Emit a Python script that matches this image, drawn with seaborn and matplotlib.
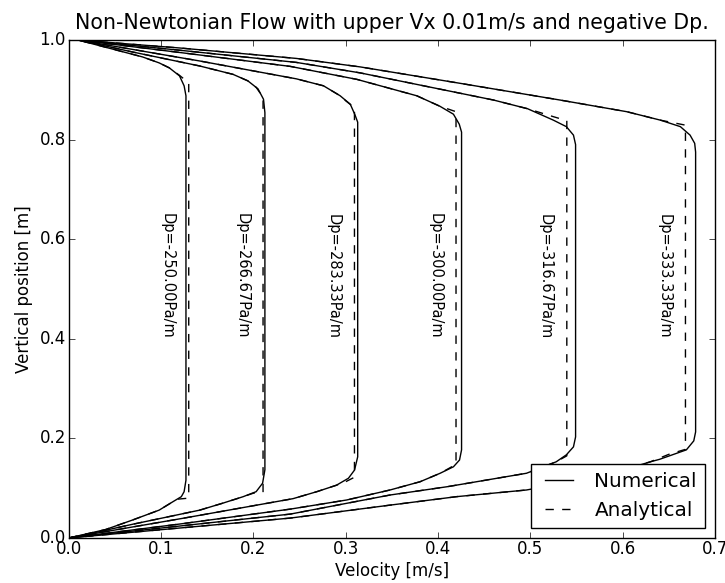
"""Velocity profiles of the non-Newtonian channel flow: numerical vs analytical."""

import matplotlib
matplotlib.use('Agg')
import matplotlib.pyplot as plt
from matplotlib.lines import Line2D
import pandas as pd
import seaborn as sns

DP_VALUES = [-250.00, -266.67, -283.33, -300.00, -316.67, -333.33]
LABEL_X = [0.107, 0.1875, 0.2865, 0.3965, 0.5165, 0.645]

# numerical profiles (velocity u, vertical position y)
NUM_U = [
    [0, 0.040, 0.069, 0.098, 0.113, 0.122, 0.125, 0.127, 0.127, 0.125, 0.120, 0.109, 0.098, 0.080, 0.045, 0.010],
    [0, 0.033, 0.069, 0.105, 0.142, 0.167, 0.189, 0.203, 0.210, 0.2125, 0.2125, 0.211, 0.205, 0.194, 0.178, 0.1415, 0.069, 0.010],
    [0, 0.1235, 0.243, 0.2687, 0.290, 0.303, 0.3096, 0.313, 0.313, 0.310, 0.305, 0.294, 0.276, 0.2466, 0.1415, 0.010],
    [0, 0.120, 0.240, 0.301, 0.348, 0.3806, 0.4023, 0.4167, 0.4233, 0.4255, 0.4255, 0.423, 0.4167, 0.402, 0.377, 0.312, 0.240, 0.120, 0.010],
    [0, 0.120, 0.240, 0.348, 0.410, 0.4958, 0.528, 0.539, 0.5467, 0.549, 0.549, 0.5467, 0.539, 0.525, 0.497, 0.460, 0.3156, 0.2466, 0.120, 0.010],
    [0, 0.120, 0.240, 0.348, 0.420, 0.4958, 0.580, 0.630, 0.640, 0.669, 0.677, 0.679, 0.679, 0.678, 0.673, 0.6625, 0.641, 0.6045, 0.532, 0.424, 0.3156, 0.2466, 0.120, 0.010],
]
NUM_Y = [
    [0, 0.017, 0.036, 0.056, 0.073, 0.083, 0.093, 0.116, 0.888, 0.908, 0.928, 0.944, 0.954, 0.966, 0.983, 1.0],
    [0, 0.0127, 0.0275, 0.0415, 0.056, 0.070, 0.083, 0.093, 0.110, 0.137, 0.854, 0.881, 0.902, 0.918, 0.931, 0.948, 0.976, 1.0],
    [0, 0.0395, 0.079, 0.093, 0.106, 0.120, 0.1365, 0.163, 0.835, 0.850, 0.871, 0.888, 0.908, 0.922, 0.958, 1.0],
    [0, 0.028, 0.058, 0.0763, 0.0964, 0.113, 0.130, 0.143, 0.1566, 0.177, 0.815, 0.831, 0.851, 0.867, 0.888, 0.921, 0.947, 0.975, 1.0],
    [0, 0.024, 0.048, 0.0863, 0.103, 0.130, 0.153, 0.167, 0.183, 0.203, 0.790, 0.809, 0.826, 0.839, 0.862, 0.8795, 0.934, 0.955, 0.9795, 1.0],
    [0, 0.020, 0.040, 0.066, 0.083, 0.0964, 0.125, 0.153, 0.158, 0.177, 0.195, 0.213, 0.775, 0.7925, 0.809, 0.826, 0.839, 0.856, 0.8795, 0.913, 0.946, 0.963, 0.984, 1.0],
]

# analytical profiles
ANA_U = [
    [0, 0.040, 0.069, 0.098, 0.113, 0.118, 0.130, 0.130, 0.120, 0.109, 0.098, 0.080, 0.045, 0.010],
    [0, 0.033, 0.069, 0.105, 0.142, 0.167, 0.189, 0.200, 0.2105, 0.2105, 0.203, 0.194, 0.178, 0.1415, 0.069, 0.010],
    [0, 0.1235, 0.243, 0.2687, 0.290, 0.300, 0.3095, 0.3095, 0.300, 0.294, 0.276, 0.2466, 0.1415, 0.010],
    [0, 0.120, 0.240, 0.301, 0.348, 0.3806, 0.4023, 0.412, 0.4195, 0.4195, 0.410, 0.402, 0.377, 0.312, 0.240, 0.120, 0.010],
    [0, 0.120, 0.240, 0.348, 0.410, 0.4958, 0.528, 0.5395, 0.5395, 0.525, 0.497, 0.460, 0.3156, 0.2466, 0.120, 0.010],
    [0, 0.120, 0.240, 0.348, 0.420, 0.4958, 0.580, 0.630, 0.650, 0.668, 0.668, 0.641, 0.6045, 0.532, 0.424, 0.3156, 0.2466, 0.120, 0.010],
]
ANA_Y = [
    [0, 0.017, 0.036, 0.056, 0.073, 0.078, 0.080, 0.914, 0.929, 0.944, 0.954, 0.966, 0.983, 1.0],
    [0, 0.0127, 0.0275, 0.0415, 0.056, 0.070, 0.083, 0.090, 0.092, 0.885, 0.905, 0.918, 0.931, 0.948, 0.976, 1.0],
    [0, 0.0395, 0.079, 0.093, 0.106, 0.113, 0.122, 0.864, 0.878, 0.888, 0.908, 0.922, 0.958, 1.0],
    [0, 0.028, 0.058, 0.0763, 0.0964, 0.113, 0.130, 0.140, 0.148, 0.856, 0.862, 0.867, 0.888, 0.921, 0.947, 0.975, 1.0],
    [0, 0.024, 0.048, 0.0863, 0.103, 0.130, 0.153, 0.165, 0.838, 0.846, 0.862, 0.8795, 0.934, 0.955, 0.9795, 1.0],
    [0, 0.020, 0.040, 0.066, 0.083, 0.0964, 0.125, 0.153, 0.168, 0.178, 0.829, 0.839, 0.856, 0.8795, 0.913, 0.946, 0.963, 0.984, 1.0],
]

DASH = (6, 6)


def build_frame():
    rows = []
    for kind, us, ys in [('Numerical', NUM_U, NUM_Y), ('Analytical', ANA_U, ANA_Y)]:
        for i, (u, y) in enumerate(zip(us, ys)):
            for uu, yy in zip(u, y):
                rows.append({'kind': kind, 'curve': f'{kind}{i}', 'u': uu, 'y': yy})
    return pd.DataFrame(rows)


def main():
    plt.style.use('classic')
    plt.rcParams.update({
        'font.family': 'DejaVu Sans',
        'figure.facecolor': 'white',
        'savefig.facecolor': 'white',
        'xtick.major.pad': 1.5,
        'ytick.major.pad': 2.0,
    })

    fig = plt.figure(figsize=(7.25, 5.83), dpi=100)
    ax = fig.add_axes([68.7 / 725, 45 / 583, (715 - 68.7) / 725, 498 / 583])

    df = build_frame()
    sns.lineplot(
        data=df, x='u', y='y', units='curve', style='kind',
        style_order=['Numerical', 'Analytical'],
        dashes={'Numerical': '', 'Analytical': DASH},
        estimator=None, sort=False, color='black', linewidth=1.0,
        legend=False, ax=ax,
    )

    for x, dp in zip(LABEL_X, DP_VALUES):
        ax.text(x, 0.4, f'Dp={dp:.2f}Pa/m', rotation=270,
                ha='center', va='bottom', fontsize=10.5)

    handles = [
        Line2D([], [], color='black', lw=1.0, ls='-'),
        Line2D([], [], color='black', lw=1.0, dashes=DASH),
    ]
    ax.legend(handles, ['Numerical', 'Analytical'], loc='lower right')

    ax.set_xlim(0, 0.7)
    ax.set_ylim(0, 1.0)
    ax.set_xlabel('Velocity [m/s]', labelpad=3)
    ax.set_ylabel('Vertical position [m]')
    ax.set_title('Non-Newtonian Flow with upper Vx 0.01m/s and negative Dp.',
                 fontsize=14.8, pad=8)

    fig.savefig('out.png', dpi=100)
    plt.close(fig)


if __name__ == '__main__':
    main()
